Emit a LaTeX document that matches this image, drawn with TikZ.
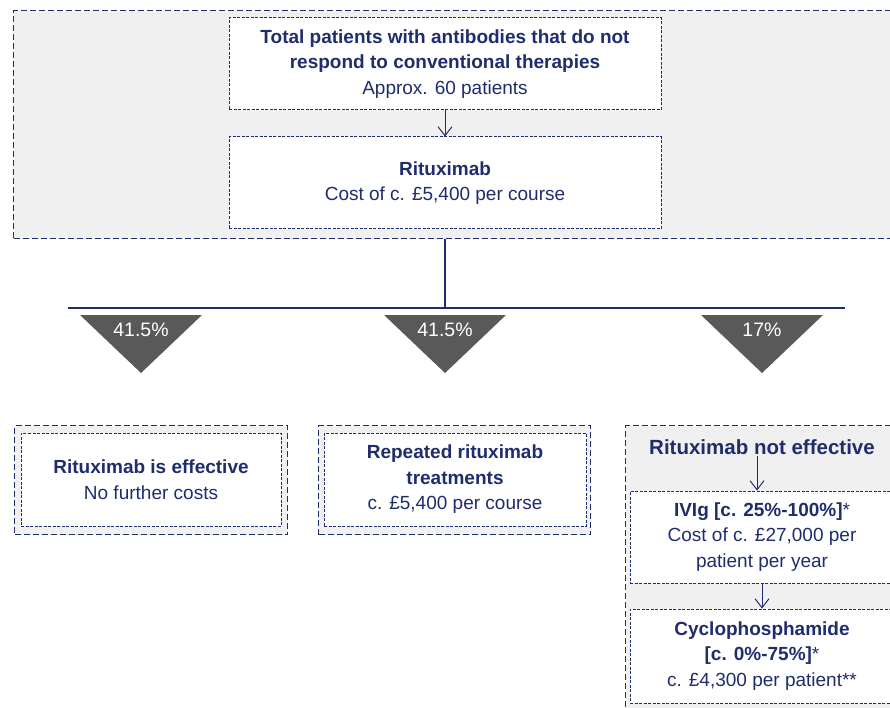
\documentclass[tikz,border=0pt]{standalone}
\usepackage{fontspec}
\setmainfont{Liberation Sans}
\usepackage{tikz}
\usetikzlibrary{arrows.meta, positioning}

\definecolor{navy}{RGB}{31,45,110}
\definecolor{panelgray}{RGB}{240,240,240}
\definecolor{tridark}{RGB}{89,89,89}

\begin{document}
\begin{tikzpicture}[
    x=1pt, y=-1pt,
    groupbox/.style={draw=navy, dash pattern=on 6pt off 3pt, fill=panelgray, line width=1.2pt, inner sep=0pt, anchor=north west},
    stepbox/.style={draw=navy, dash pattern=on 3pt off 1.5pt, fill=white, line width=1pt, align=center, text=navy, font=\fontsize{19}{25.5}\selectfont, inner sep=0pt},
    plaintext/.style={align=center, text=navy, font=\fontsize{20.5}{25.5}\selectfont\bfseries, inner sep=1pt},
    arrow/.style={-{Straight Barb[length=9pt, width=14pt]}, navy, line width=1pt},
    branch/.style={navy, line width=1.2pt},
    tri/.style={fill=tridark},
    pctlabel/.style={text=white, font=\fontsize{19.5}{20}\selectfont, inner sep=0pt}
]
\useasboundingbox (0,0) rectangle (890,708);
\clip (0,0) rectangle (890,708);

% top panel
\node[groupbox, minimum width=887, minimum height=228] (topgroup) at (13,10) {};

\node[stepbox, minimum width=432, minimum height=92] (total) at (445,64)
    {\textbf{Total patients with antibodies that do not}\\\textbf{respond to conventional therapies}\\Approx. 60 patients};
\node[stepbox, minimum width=432, minimum height=92] (ritux) at (445,183)
    {\textbf{Rituximab}\\Cost of c. £5,400 per course};

\draw[arrow] (total) -- (ritux);

% split into the three outcomes
\coordinate (split) at (445,308);
\coordinate (bl) at (68,308);
\coordinate (br) at (845,308);
\draw[branch] (ritux.south |- topgroup.south) -- (split);
\draw[branch] (bl) -- (br);

\foreach \cx/\pct/\nm in {141/41.5\%/pcta, 445/41.5\%/pctb, 762/17\%/pctc} {
    \fill[tri] (\cx-61,315) -- (\cx+61,315) -- (\cx,373) -- cycle;
    \node[pctlabel] (\nm) at (\cx,330) {\pct};
}

% outcome 1
\node[groupbox, minimum width=273, minimum height=109] (effgroup) at (14,425) {};
\node[stepbox, minimum width=260, minimum height=93] (eff) at (151,479.5)
    {\textbf{Rituximab is effective}\\No further costs};

% outcome 2
\node[groupbox, minimum width=272, minimum height=109] (repgroup) at (318,425) {};
\node[stepbox, minimum width=262, minimum height=93] (rep) at (455,479.5)
    {\textbf{Repeated rituximab}\\\textbf{treatments}\\c. £5,400 per course};

% outcome 3
\node[groupbox, minimum width=275, minimum height=300] (notgroup) at (625,425) {};
\node[plaintext] (noteff) at (762,447) {Rituximab not effective};
\node[stepbox, minimum width=264, minimum height=92] (ivig) at (762,537)
    {\textbf{IVIg [c. 25\%-100\%]}*\\Cost of c. £27,000 per\\patient per year};
\node[stepbox, minimum width=264, minimum height=94] (cyclo) at (762,656)
    {\textbf{Cyclophosphamide}\\\textbf{[c. 0\%-75\%]}*\\c. £4,300 per patient**};

\draw[arrow] ([xshift=-5]noteff.south) -- ([xshift=-5]ivig.north);
\draw[arrow] (ivig) -- (cyclo);

\end{tikzpicture}
\end{document}
